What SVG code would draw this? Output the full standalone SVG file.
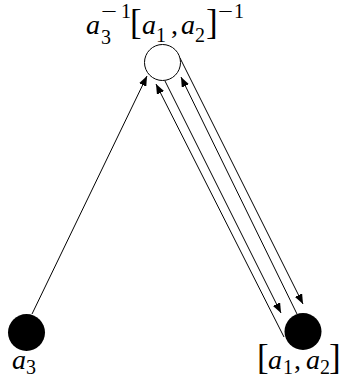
<svg xmlns="http://www.w3.org/2000/svg" width="341" height="379" viewBox="0 0 341 379">
<style>
.e{stroke:#000;stroke-width:1;fill:none}
text{font-family:'Liberation Serif','DejaVu Serif',serif;fill:#000;font-size:20px}
.m{font-style:italic;font-size:28px}
.b{font-size:35px}
.c{font-size:28px}
</style>
<defs>
<marker id="ar" markerUnits="userSpaceOnUse" markerWidth="10" markerHeight="8" refX="10" refY="4" orient="auto">
<path d="M0,0 L10,4 L0,8 Z" fill="#000"/>
</marker>
</defs>
<rect width="341" height="379" fill="#fff"/>
<g id="connectors">
<line class="e" x1="32" y1="314" x2="147" y2="76" marker-end="url(#ar)"/>
<line class="e" x1="284" y1="337" x2="156" y2="84" marker-end="url(#ar)"/>
<line class="e" x1="165" y1="81" x2="281" y2="313" marker-end="url(#ar)"/>
<line class="e" x1="297" y1="314" x2="181" y2="77" marker-end="url(#ar)"/>
<line class="e" x1="180" y1="58" x2="303" y2="304" marker-end="url(#ar)"/>
</g>
<g id="top">
<circle cx="162.5" cy="62.5" r="18" fill="#fff" stroke="#000" stroke-width="1"/>
<text class="m" x="86" y="34">a</text>
<text x="101" y="44">3</text>
<text x="101" y="18" textLength="16" lengthAdjust="spacingAndGlyphs">−</text>
<text x="121" y="18">1</text>
<text class="b" x="130" y="34">[</text>
<text class="m" x="142" y="34">a</text>
<text x="156" y="42">1</text>
<text class="c" x="171" y="34">,</text>
<text class="m" x="181" y="34">a</text>
<text x="195" y="42">2</text>
<text class="b" x="206" y="34">]</text>
<text x="218" y="18" textLength="15" lengthAdjust="spacingAndGlyphs">−</text>
<text x="234" y="18">1</text>
</g>
<g id="a3">
<circle cx="26.5" cy="332.5" r="18.5" fill="#000"/>
<text class="m" x="12" y="369">a</text>
<text x="26" y="374">3</text>
</g>
<g id="a1a2">
<circle cx="303" cy="331.5" r="18.5" fill="#000"/>
<text class="b" x="257" y="369">[</text>
<text class="m" x="268" y="369">a</text>
<text x="283" y="374">1</text>
<text class="c" x="294" y="369">,</text>
<text class="m" x="306" y="369">a</text>
<text x="320" y="374">2</text>
<text class="b" x="329" y="369">]</text>
</g>
</svg>
